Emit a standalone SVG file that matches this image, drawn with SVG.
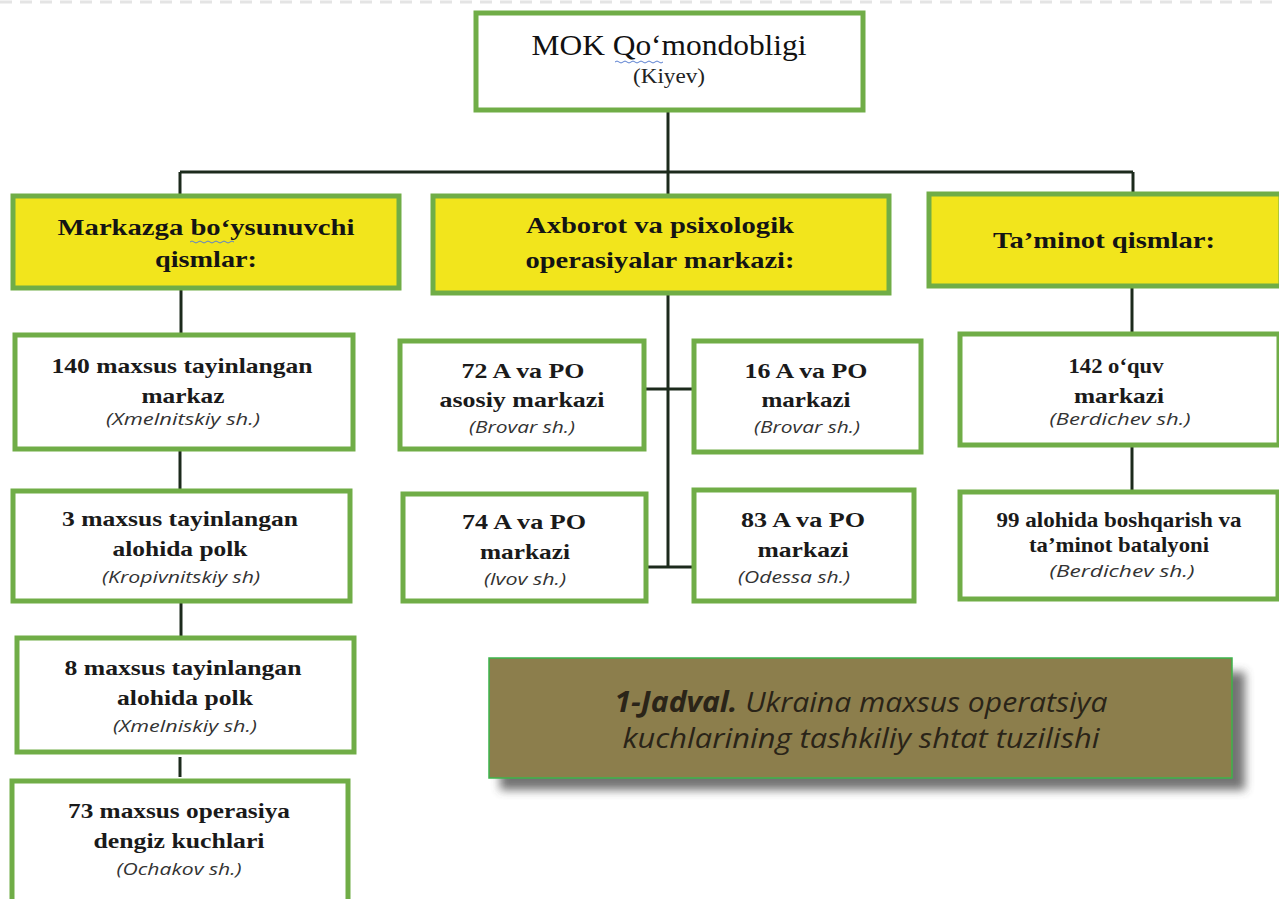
<svg xmlns="http://www.w3.org/2000/svg" width="1279" height="899" viewBox="0 0 1279 899">
<defs>
<style>
.box{fill:#ffffff;stroke:#70ad47;stroke-width:5}
.hdr{fill:#f2e51c;stroke:#70ad47;stroke-width:5}
.t{font-family:"Liberation Serif",serif;font-weight:bold;font-size:21px;fill:#1a1a1a;text-anchor:middle}
.h{font-family:"Liberation Serif",serif;font-weight:bold;font-size:24px;fill:#141414;text-anchor:middle}
.loc{font-family:"Open Sans","Liberation Sans",sans-serif;font-style:italic;font-size:17px;fill:#333333;text-anchor:middle}
.ln{stroke:#1c2a1c;stroke-width:3;fill:none}
.cap{font-family:"Open Sans","Liberation Sans",sans-serif;font-style:italic;font-size:28px;fill:#2a2418;text-anchor:middle}
.sq{stroke:#5a7fd0;stroke-width:1;fill:none}
</style>
<filter id="sh" x="-10%" y="-20%" width="130%" height="160%">
<feGaussianBlur stdDeviation="5"/>
</filter>
</defs>
<rect width="1279" height="899" fill="#ffffff"/>
<line x1="0" y1="2" x2="1279" y2="2" stroke="#e4e4e4" stroke-width="3" stroke-dasharray="12 8"/>

<g id="connectors">
<line class="ln" x1="668" y1="110" x2="668" y2="172"/>
<line class="ln" x1="180" y1="172" x2="1133" y2="172"/>
<line class="ln" x1="180" y1="172" x2="180" y2="195"/>
<line class="ln" x1="668" y1="172" x2="668" y2="195"/>
<line class="ln" x1="1133" y1="172" x2="1133" y2="193"/>
<line class="ln" x1="181" y1="288" x2="181" y2="333"/>
<line class="ln" x1="180" y1="450" x2="180" y2="489"/>
<line class="ln" x1="181" y1="601" x2="181" y2="636"/>
<line class="ln" x1="180" y1="757" x2="180" y2="777"/>
<line class="ln" x1="668" y1="293" x2="668" y2="568"/>
<line class="ln" x1="644" y1="389" x2="692" y2="389"/>
<line class="ln" x1="647" y1="567" x2="692" y2="567"/>
<line class="ln" x1="1132" y1="287" x2="1132" y2="332"/>
<line class="ln" x1="1132" y1="446" x2="1132" y2="490"/>
</g>

<g id="root">
<rect class="box" x="476" y="13" width="387" height="97"/>
<text x="669" y="55" font-family="Liberation Serif, serif" font-size="30" fill="#111" text-anchor="middle" textLength="275" lengthAdjust="spacingAndGlyphs">MOK Qo‘mondobligi</text>
<path class="sq" d="M615 62 q2 -2 4 0 t4 0 t4 0 t4 0 t4 0 t4 0 t4 0 t4 0 t4 0 t4 0 t4 0 t4 0"/>
<text x="669" y="83" font-family="Liberation Serif, serif" font-size="20" fill="#222" text-anchor="middle" textLength="72" lengthAdjust="spacingAndGlyphs">(Kiyev)</text>
</g>

<g id="h-left">
<rect class="hdr" x="13" y="196" width="386" height="92"/>
<text class="h" x="206" y="235" textLength="297" lengthAdjust="spacingAndGlyphs">Markazga bo‘ysunuvchi</text>
<path class="sq" d="M190 242 q2 -2 4 0 t4 0 t4 0 t4 0 t4 0 t4 0 t4 0 t4 0 t4 0 t4 0 t4 0"/>
<text class="h" x="206" y="267" textLength="102" lengthAdjust="spacingAndGlyphs">qismlar:</text>
</g>
<g id="h-mid">
<rect class="hdr" x="433" y="196" width="456" height="97"/>
<text class="h" x="660" y="233" textLength="268" lengthAdjust="spacingAndGlyphs">Axborot va psixologik</text>
<text class="h" x="660" y="268" textLength="269" lengthAdjust="spacingAndGlyphs">operasiyalar markazi:</text>
</g>
<g id="h-right">
<rect class="hdr" x="929" y="194" width="352" height="92"/>
<text class="h" x="1104" y="248" textLength="222" lengthAdjust="spacingAndGlyphs">Ta’minot qismlar:</text>
</g>

<g id="n140">
<rect class="box" x="15" y="335" width="338" height="114"/>
<text class="t" x="182" y="373" textLength="261" lengthAdjust="spacingAndGlyphs">140 maxsus tayinlangan</text>
<text class="t" x="183" y="403" textLength="83" lengthAdjust="spacingAndGlyphs">markaz</text>
<text class="loc" x="183" y="425" textLength="154" lengthAdjust="spacingAndGlyphs">(Xmelnitskiy sh.)</text>
</g>
<g id="n3">
<rect class="box" x="13" y="491" width="337" height="110"/>
<text class="t" x="180" y="526" textLength="236" lengthAdjust="spacingAndGlyphs">3 maxsus tayinlangan</text>
<text class="t" x="180" y="556" textLength="135" lengthAdjust="spacingAndGlyphs">alohida polk</text>
<text class="loc" x="181" y="583" textLength="158" lengthAdjust="spacingAndGlyphs">(Kropivnitskiy sh)</text>
</g>
<g id="n8">
<rect class="box" x="17" y="638" width="337" height="114"/>
<text class="t" x="183" y="675" textLength="237" lengthAdjust="spacingAndGlyphs">8 maxsus tayinlangan</text>
<text class="t" x="185" y="705" textLength="136" lengthAdjust="spacingAndGlyphs">alohida polk</text>
<text class="loc" x="185" y="732" textLength="144" lengthAdjust="spacingAndGlyphs">(Xmelniskiy sh.)</text>
</g>
<g id="n73">
<rect class="box" x="12" y="781" width="336" height="125"/>
<text class="t" x="179" y="818" textLength="222" lengthAdjust="spacingAndGlyphs">73 maxsus operasiya</text>
<text class="t" x="179" y="848" textLength="171" lengthAdjust="spacingAndGlyphs">dengiz kuchlari</text>
<text class="loc" x="179" y="875" textLength="125" lengthAdjust="spacingAndGlyphs">(Ochakov sh.)</text>
</g>

<g id="n72">
<rect class="box" x="400" y="341" width="244" height="108"/>
<text class="t" x="523" y="378" textLength="123" lengthAdjust="spacingAndGlyphs">72 A va PO</text>
<text class="t" x="522" y="407" textLength="165" lengthAdjust="spacingAndGlyphs">asosiy markazi</text>
<text class="loc" x="522" y="433" textLength="106" lengthAdjust="spacingAndGlyphs">(Brovar sh.)</text>
</g>
<g id="n16">
<rect class="box" x="694" y="341" width="227" height="111"/>
<text class="t" x="806" y="378" textLength="123" lengthAdjust="spacingAndGlyphs">16 A va PO</text>
<text class="t" x="806" y="407" textLength="89" lengthAdjust="spacingAndGlyphs">markazi</text>
<text class="loc" x="807" y="433" textLength="106" lengthAdjust="spacingAndGlyphs">(Brovar sh.)</text>
</g>
<g id="n74">
<rect class="box" x="403" y="494" width="243" height="107"/>
<text class="t" x="524" y="529" textLength="124" lengthAdjust="spacingAndGlyphs">74 A va PO</text>
<text class="t" x="525" y="559" textLength="90" lengthAdjust="spacingAndGlyphs">markazi</text>
<text class="loc" x="525" y="585" textLength="82" lengthAdjust="spacingAndGlyphs">(lvov sh.)</text>
</g>
<g id="n83">
<rect class="box" x="694" y="490" width="220" height="111"/>
<text class="t" x="803" y="527" textLength="124" lengthAdjust="spacingAndGlyphs">83 A va PO</text>
<text class="t" x="803" y="557" textLength="91" lengthAdjust="spacingAndGlyphs">markazi</text>
<text class="loc" x="794" y="583" textLength="112" lengthAdjust="spacingAndGlyphs">(Odessa sh.)</text>
</g>

<g id="n142">
<rect class="box" x="960" y="334" width="319" height="111"/>
<text class="t" x="1116" y="373" textLength="95" lengthAdjust="spacingAndGlyphs">142 o‘quv</text>
<text class="t" x="1119" y="403" textLength="90" lengthAdjust="spacingAndGlyphs">markazi</text>
<text class="loc" x="1120" y="425" textLength="141" lengthAdjust="spacingAndGlyphs">(Berdichev  sh.)</text>
</g>
<g id="n99">
<rect class="box" x="960" y="492" width="318" height="107"/>
<text class="t" x="1119" y="527" textLength="245" lengthAdjust="spacingAndGlyphs">99 alohida boshqarish va</text>
<text class="t" x="1119" y="552" textLength="180" lengthAdjust="spacingAndGlyphs">ta’minot batalyoni</text>
<text class="loc" x="1122" y="577" textLength="145" lengthAdjust="spacingAndGlyphs">(Berdichev  sh.)</text>
</g>

<g id="caption">
<rect x="500" y="672" width="745" height="118" fill="#444" opacity="0.75" filter="url(#sh)"/>
<rect x="489" y="658" width="743" height="120" fill="#8c7e4c" stroke="#3cb44b" stroke-width="1.5"/>
<text class="cap" x="861" y="712" textLength="493" lengthAdjust="spacingAndGlyphs"><tspan font-weight="bold">1-Jadval.</tspan> Ukraina maxsus operatsiya</text>
<text class="cap" x="861" y="748" textLength="477" lengthAdjust="spacingAndGlyphs">kuchlarining tashkiliy shtat tuzilishi</text>
</g>
</svg>
